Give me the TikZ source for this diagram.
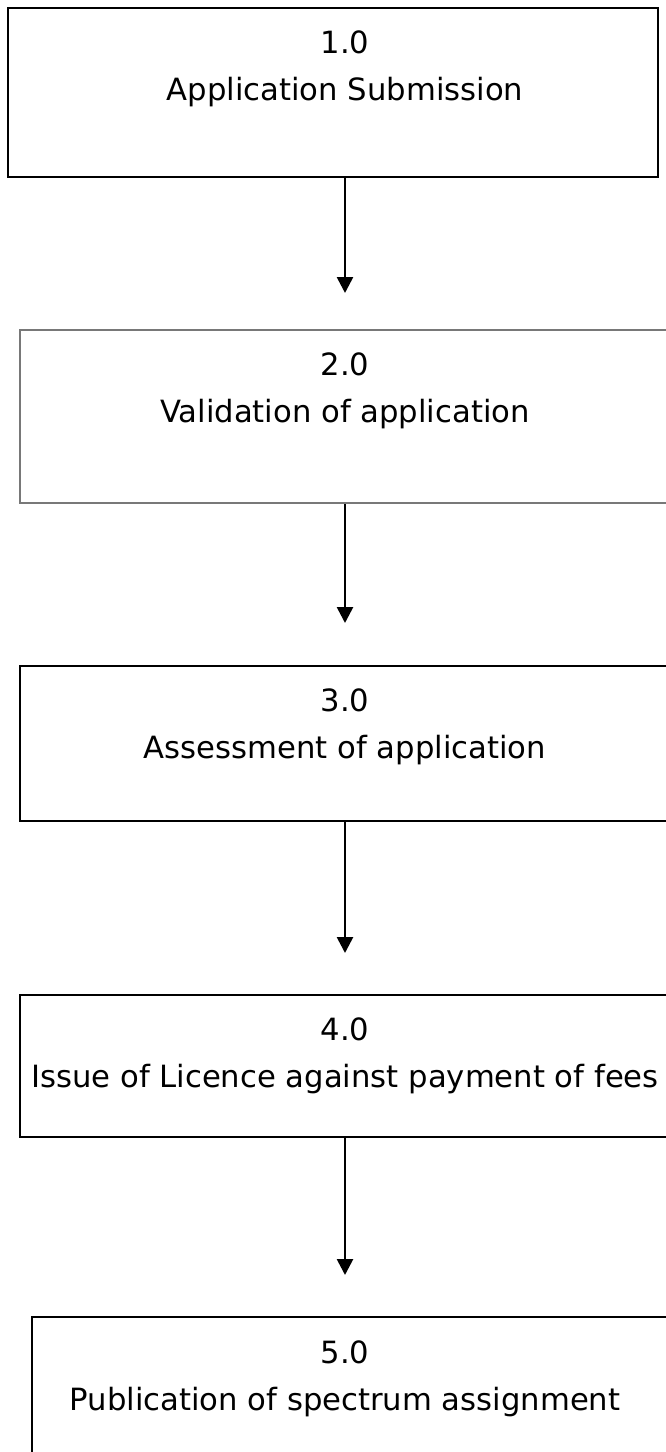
\documentclass[tikz,border=0pt]{standalone}
\usepackage{fontspec}
\setmainfont{DejaVu Sans}
\usepackage{xcolor}
\usetikzlibrary{positioning, arrows.meta, fit}
\definecolor{boxgray}{RGB}{120, 120, 120}
\tikzset{
    procbox/.style={draw=black, line width=2pt, inner sep=0pt},
    graybox/.style={procbox, draw=boxgray, line width=1.6pt},
    thinbox/.style={procbox, line width=1.6pt},
    proctext/.style={anchor=base, inner sep=0pt, font=\fontsize{23}{27}\selectfont},
    flow/.style={line width=2pt, -{Triangle[length=12pt, width=12pt]}}
}

\begin{document}
\begin{tikzpicture}[x=0.75pt, y=-0.75pt]
                \useasboundingbox (0,0) rectangle (666,1452);
                \clip (0,0) rectangle (666,1452);
                \fill[white] (0,0) rectangle (666,1452);
                \node[procbox, fit={(8,8) (658,177)}] (submit) {};
                \node[proctext] (submitno) at (345,54) {1.0};
                \node[proctext] (submittxt) at (345,101) {Application Submission};
                \node[graybox, fit={(20,330) (690,503)}] (valid) {};
                \node[proctext] (validno) at (345,375) {2.0};
                \node[proctext] (validtxt) at (345,422) {Validation of application};
                \node[procbox, fit={(20,666) (690,821)}] (assess) {};
                \node[proctext] (assessno) at (345,711) {3.0};
                \node[proctext] (assesstxt) at (345,758) {Assessment of application};
                \node[thinbox, fit={(20,995) (690,1137)}] (issue) {};
                \node[proctext] (issueno) at (345,1040) {4.0};
                \node[proctext] (issuetxt) at (345,1087) {Issue of Licence against payment of fees};
                \node[thinbox, fit={(32,1317) (690,1480)}] (publish) {};
                \node[proctext] (publishno) at (345,1363) {5.0};
                \node[proctext] (publishtxt) at (345,1410) {Publication of spectrum assignment};
                \coordinate (tipa) at (345,293);
                \coordinate (tipb) at (345,623);
                \coordinate (tipc) at (345,953);
                \coordinate (tipd) at (345,1275);
                \draw[flow] (submit.south -| tipa) -- (tipa);
                \draw[flow] (valid.south -| tipb) -- (tipb);
                \draw[flow] (assess.south -| tipc) -- (tipc);
                \draw[flow] (issue.south -| tipd) -- (tipd);
            \end{tikzpicture}
\end{document}
